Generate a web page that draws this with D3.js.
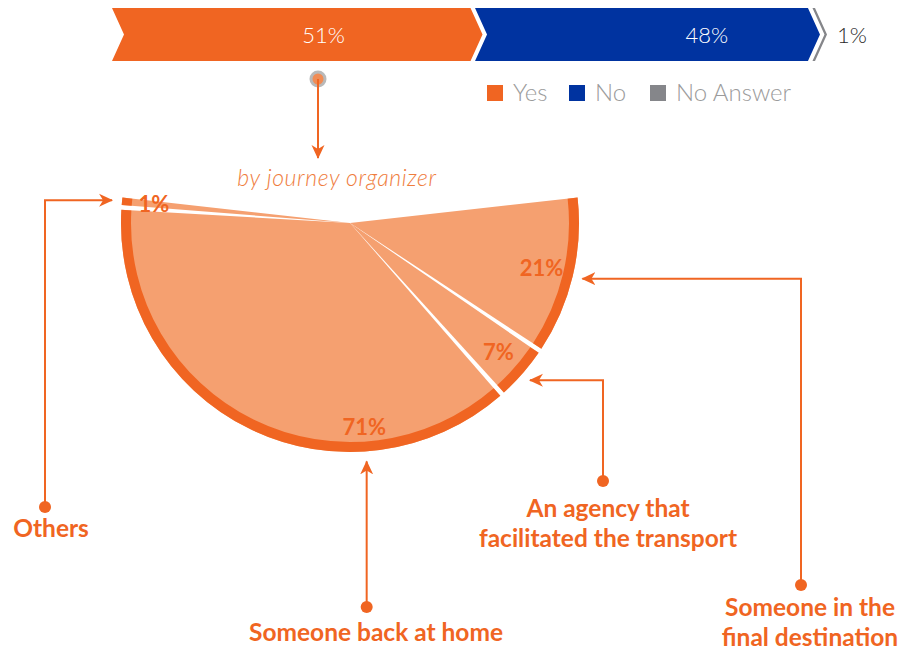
<!DOCTYPE html>
<html>
<head>
<meta charset="utf-8">
<script src="https://cdn.jsdelivr.net/npm/d3@7"></script>
<style>
  html, body { margin: 0; padding: 0; background: #fff; }
  svg { display: block; font-family: Lato, "Open Sans", sans-serif; }
</style>
</head>
<body>
<svg id="chart" width="903" height="650"></svg>
<script>
// Answer shares for the top bar
const answerKeys = ["Yes", "No", "No Answer"];
const answerValues = [51, 48, 1];
const answerLabels = ["51%", "48%", "1%"];

// Who organised the journey (among "Yes")
const organizerCategories = [
  "Someone in the final destination",
  "An agency that facilitated the transport",
  "Someone back at home",
  "Others"
];
const organizerValues = [21, 7, 71, 1];
const organizerLabels = ["21%", "7%", "71%", "1%"];

const ORANGE = "#f06522";
const BLUE = "#0033a0";
const GREY = "#85868a";
const PIE_FILL = "#f5a070";

const svg = d3.select("#chart");
const deg = Math.PI / 180;

// arrow marker
const defs = svg.append("defs");
defs.append("marker")
  .attr("id", "arrow")
  .attr("viewBox", "0 -7 14 14")
  .attr("refX", 13).attr("refY", 0)
  .attr("markerWidth", 14).attr("markerHeight", 14)
  .attr("markerUnits", "userSpaceOnUse")
  .attr("orient", "auto")
  .append("path")
  .attr("d", "M0,-6.5 L14,0 L0,6.5 L4,0 Z")
  .attr("fill", ORANGE);

// ---------- chevron bar ----------
const x = d3.scaleLinear().domain([0, 100]).range([112, 815]);
const barTop = 8, barH = 53, tip = 12, gap = 4.5;
const barColors = d3.scaleOrdinal().domain(answerKeys).range([ORANGE, BLUE, GREY]);
const labelFrac = [0.59, 0.7];

let acc = 0;
const segs = answerValues.map((v, i) => {
  const s = { key: answerKeys[i], label: answerLabels[i], start: acc, end: acc + v, i };
  acc += v;
  return s;
});

const mid = barTop + barH / 2;
svg.append("g").selectAll("path").data(segs).join("path")
  .attr("d", d => {
    const x0 = x(d.start) + (d.i > 0 ? gap : 0);
    const x1 = x(d.end);
    return `M${x0},${barTop} L${x1},${barTop} L${x1 + tip},${mid} L${x1},${barTop + barH} ` +
           `L${x0},${barTop + barH} L${x0 + tip},${mid} Z`;
  })
  .attr("fill", d => barColors(d.key));

// labels inside the wide segments, outside for the thin one
svg.append("g").selectAll("text").data(segs).join("text")
  .attr("x", d => d.end - d.start > 5
    ? x(d.start) + labelFrac[d.i] * (x(d.end) - x(d.start))
    : x(d.end) + tip + 10)
  .attr("y", mid + 8)
  .attr("text-anchor", d => d.end - d.start > 5 ? "middle" : "start")
  .attr("font-size", 22)
  .attr("font-weight", 300)
  .attr("fill", d => d.end - d.start > 5 ? "#fff" : "#2a2a2a")
  .text(d => d.label);

// legend
const legendX = [487, 569, 650];
const legend = svg.append("g").selectAll("g").data(answerKeys).join("g")
  .attr("transform", (d, i) => `translate(${legendX[i]},85)`);
legend.append("rect").attr("width", 16).attr("height", 16).attr("fill", d => barColors(d));
legend.append("text").attr("x", 26).attr("y", 15.5)
  .attr("font-size", 24).attr("font-weight", 300).attr("fill", "#9b9b9b")
  .text(d => d);

// ---------- connector to the breakdown ----------
const cx0 = 318;
svg.append("circle").attr("cx", cx0).attr("cy", 79).attr("r", 8.5).attr("fill", "#b9b9b9");
svg.append("circle").attr("cx", cx0).attr("cy", 79).attr("r", 5.5).attr("fill", "#f08c55");
svg.append("path")
  .attr("d", `M${cx0},79 L${cx0},158`)
  .attr("stroke", ORANGE).attr("stroke-width", 2).attr("fill", "none")
  .attr("marker-end", "url(#arrow)");
svg.append("text")
  .attr("x", 337).attr("y", 186)
  .attr("text-anchor", "middle")
  .attr("font-size", 23).attr("font-style", "italic").attr("font-weight", 300)
  .attr("letter-spacing", 0.6)
  .attr("fill", "#ef7d3e")
  .text("by journey organizer");

// ---------- partial pie ----------
const pc = { x: 350, y: 223 };
const R = 229, ring = 10;
const pie = d3.pie().sort(null).value(d => d)
  .startAngle(83 * deg).endAngle(277 * deg).padAngle(0.021);
const arcs = pie(organizerValues);
const arcFill = d3.arc().innerRadius(0).outerRadius(R).padRadius(R);
const arcRing = d3.arc().innerRadius(R - ring).outerRadius(R).padRadius(R);

const gp = svg.append("g").attr("transform", `translate(${pc.x},${pc.y})`);
gp.selectAll("path.fill").data(arcs).join("path").attr("class", "fill")
  .attr("d", arcFill).attr("fill", PIE_FILL);
gp.selectAll("path.ring").data(arcs).join("path").attr("class", "ring")
  .attr("d", arcRing).attr("fill", ORANGE);

// label angle: slice middle, or the bottom of the circle for the wide slice
function labelAngle(a) {
  if (a.endAngle - a.startAngle > Math.PI / 2) {
    return Math.max(a.startAngle, Math.min(a.endAngle, Math.PI - 4 * deg));
  }
  return (a.startAngle + a.endAngle) / 2;
}
const polar = (ang, r) => [pc.x + r * Math.sin(ang), pc.y - r * Math.cos(ang)];

svg.append("g").selectAll("text").data(arcs).join("text")
  .attr("x", (d, i) => polar(labelAngle(d), i === 2 ? 205 : 197)[0])
  .attr("y", (d, i) => polar(labelAngle(d), i === 2 ? 205 : 197)[1] + 7.5)
  .attr("text-anchor", "middle")
  .attr("font-size", 22).attr("font-weight", 700)
  .attr("fill", ORANGE)
  .text((d, i) => organizerLabels[i]);

// ---------- callouts ----------
const callouts = [
  { colX: 801, dotY: 585, lines: ["Someone in the", "final destination"], tx: 810, ty: 616 },
  { colX: 603, dotY: 481, lines: ["An agency that", "facilitated the transport"], tx: 608, ty: 517 },
  { colX: null, dotY: 607, lines: ["Someone back at home"], tx: 376, ty: 641 },
  { colX: 45, dotY: 507, lines: ["Others"], tx: 51, ty: 537 }
];

const gc = svg.append("g");
arcs.forEach((a, i) => {
  const c = callouts[i];
  const [tx, ty] = polar(labelAngle(a), R + 10);
  const colX = c.colX === null ? tx : c.colX;
  const d = c.colX === null
    ? `M${colX},${c.dotY} L${tx},${ty}`
    : `M${colX},${c.dotY} L${colX},${ty} L${tx},${ty}`;
  gc.append("path").attr("d", d)
    .attr("stroke", ORANGE).attr("stroke-width", 2).attr("fill", "none")
    .attr("marker-end", "url(#arrow)");
  gc.append("circle").attr("cx", colX).attr("cy", c.dotY).attr("r", 6).attr("fill", ORANGE);
  const t = gc.append("text")
    .attr("x", c.tx).attr("y", c.ty)
    .attr("text-anchor", "middle")
    .attr("font-size", 24.5).attr("font-weight", 700)
    .attr("fill", ORANGE);
  c.lines.forEach((ln, k) => {
    t.append("tspan").attr("x", c.tx).attr("dy", k === 0 ? 0 : 30).text(ln);
  });
});
</script>
</body>
</html>
